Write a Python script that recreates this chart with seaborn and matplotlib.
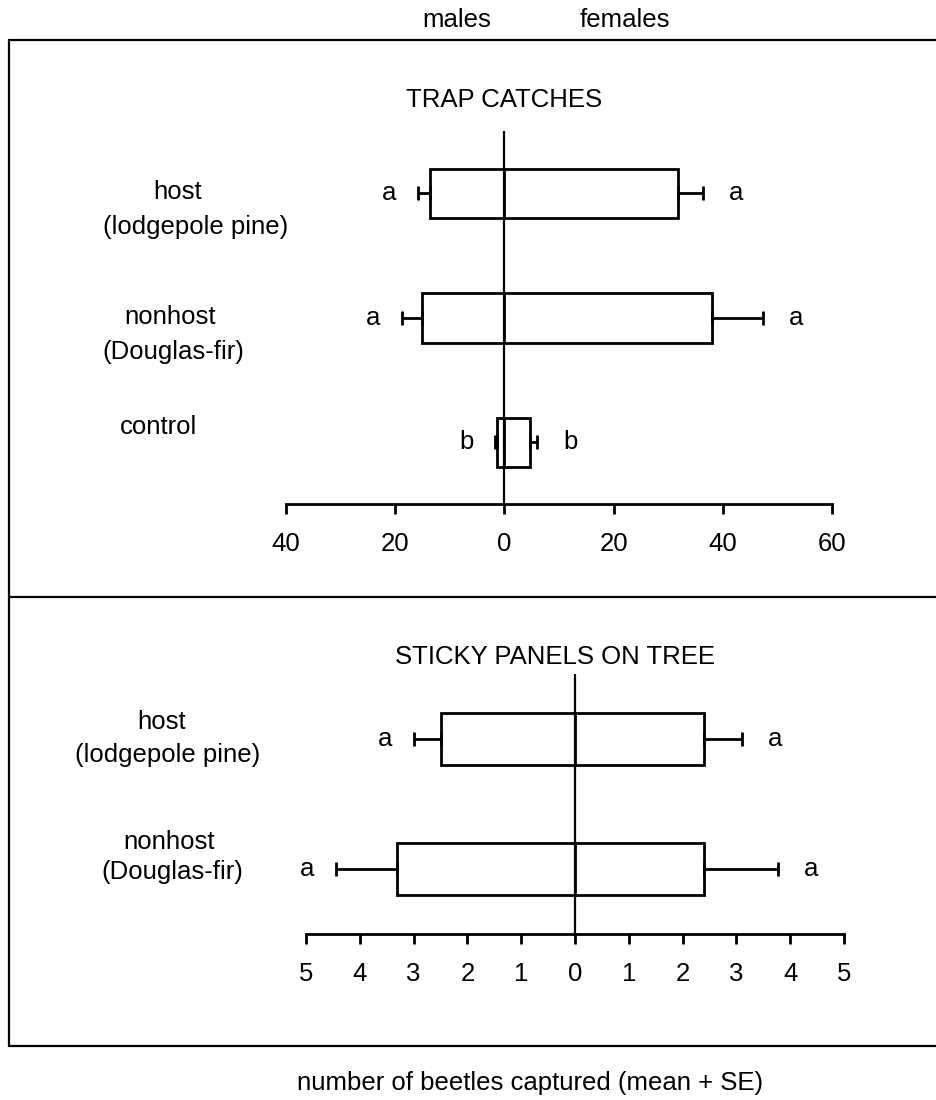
import matplotlib
matplotlib.use("Agg")
import matplotlib.pyplot as plt
import seaborn as sns
import pandas as pd
from matplotlib.lines import Line2D
from matplotlib.ticker import FuncFormatter, FixedLocator

# ---------------- data ----------------
top_title = "TRAP CATCHES"
top_groups = ["host", "nonhost", "control"]
top_sub = ["(lodgepole pine)", "(Douglas-fir)", ""]
top_male_mean = [13.6, 15.1, 1.4]
top_male_se = [2.3, 3.7, 0.3]
top_female_mean = [31.8, 38.0, 4.7]
top_female_se = [4.6, 9.4, 1.3]
top_male_letters = ["a", "a", "b"]
top_female_letters = ["a", "a", "b"]
top_ticks = [-40, -20, 0, 20, 40, 60]

bot_title = "STICKY PANELS ON TREE"
bot_groups = ["host", "nonhost"]
bot_sub = ["(lodgepole pine)", "(Douglas-fir)"]
bot_male_mean = [2.5, 3.3]
bot_male_se = [0.5, 1.15]
bot_female_mean = [2.4, 2.4]
bot_female_se = [0.7, 1.37]
bot_male_letters = ["a", "a"]
bot_female_letters = ["a", "a"]
bot_ticks = [-5, -4, -3, -2, -1, 0, 1, 2, 3, 4, 5]

sex_labels = ["males", "females"]
x_label = "number of beetles captured (mean + SE)"

# ---------------- style ----------------
sns.set_style("ticks")
plt.rcParams["font.family"] = ["Liberation Sans", "DejaVu Sans"]
plt.rcParams["text.color"] = "black"
plt.rcParams["xtick.color"] = "black"
plt.rcParams["axes.edgecolor"] = "black"
FS = 18.5
W, H = 937, 1100
fig = plt.figure(figsize=(W / 100, H / 100), dpi=100)


def fx(px):
    return px / W


def fy(py):
    return 1 - py / H


def panel(rect_px, groups, male_mean, male_se, female_mean, female_se,
          mletters, fletters, ticks, ylim):
    x0, y0, x1, y1 = rect_px
    ax = fig.add_axes([fx(x0), fy(y1), fx(x1) - fx(x0), (y1 - y0) / H])
    df = pd.DataFrame({
        "group": groups * 2,
        "sex": ["m"] * len(groups) + ["f"] * len(groups),
        "value": [-v for v in male_mean] + list(female_mean),
    })
    sns.barplot(data=df, x="value", y="group", hue="sex", order=groups,
                palette={"m": "white", "f": "white"}, dodge=False,
                width=0.4, edgecolor="black", linewidth=2.0,
                errorbar=None, legend=False, ax=ax, orient="h")
    ypos = list(range(len(groups)))
    ax.errorbar([-v for v in male_mean], ypos,
                xerr=[male_se, [0] * len(groups)], fmt="none",
                ecolor="black", elinewidth=2.0, capsize=4.7, capthick=2.0,
                zorder=3)
    ax.errorbar(female_mean, ypos,
                xerr=[[0] * len(groups), female_se], fmt="none",
                ecolor="black", elinewidth=2.0, capsize=4.7, capthick=2.0,
                zorder=3)
    for i in ypos:
        ax.annotate(mletters[i], xy=(-(male_mean[i] + male_se[i]), i),
                    xytext=(-29, 0), textcoords="offset pixels",
                    ha="center", va="center", fontsize=FS, color="black")
        ax.annotate(fletters[i], xy=(female_mean[i] + female_se[i], i),
                    xytext=(33, 0), textcoords="offset pixels",
                    ha="center", va="center", fontsize=FS, color="black")
    ax.axvline(0, color="black", lw=1.6, zorder=4)
    ax.set_xlim(ticks[0], ticks[-1])
    ax.set_ylim(*ylim)
    ax.xaxis.set_major_locator(FixedLocator(ticks))
    ax.xaxis.set_major_formatter(FuncFormatter(lambda v, p: f"{abs(v):g}"))
    ax.set_yticks([])
    ax.set_xlabel("")
    ax.set_ylabel("")
    for s in ["left", "right", "top"]:
        ax.spines[s].set_visible(False)
    ax.spines["bottom"].set_linewidth(2.0)
    ax.spines["bottom"].set_color("black")
    ax.tick_params(axis="x", length=7, width=2.0, direction="out",
                   pad=13, labelsize=FS, colors="black", labelcolor="black")
    ax.set_facecolor("none")
    return ax


ax1 = panel((286, 131, 832, 504), top_groups, top_male_mean, top_male_se,
            top_female_mean, top_female_se, top_male_letters,
            top_female_letters, top_ticks, (2.494, -0.502))
ax2 = panel((306, 674, 844, 934), bot_groups, bot_male_mean, bot_male_se,
            bot_female_mean, bot_female_se, bot_male_letters,
            bot_female_letters, bot_ticks, (1.498, -0.502))

# ---------------- frame lines ----------------
for (xa, ya, xb, yb) in [(9, 40, 937, 40), (9, 597, 937, 597),
                         (9, 1046, 937, 1046), (9, 40, 9, 1046)]:
    fig.add_artist(Line2D([fx(xa), fx(xb)], [fy(ya), fy(yb)],
                          transform=fig.transFigure, color="black", lw=1.6))

# ---------------- texts ----------------
fig.text(fx(457), fy(20), sex_labels[0], ha="center", va="center", fontsize=FS)
fig.text(fx(625), fy(20), sex_labels[1], ha="center", va="center", fontsize=FS)
fig.text(fx(504), fy(100), top_title, ha="center", va="center", fontsize=FS)
fig.text(fx(555), fy(657), bot_title, ha="center", va="center", fontsize=FS)

# row labels (top panel)
top_label_px = [((178, 192), (196, 227)), ((170, 317), (173, 352)),
                ((159, 427), None)]
for i, (l1, l2) in enumerate(top_label_px):
    fig.text(fx(l1[0]), fy(l1[1]), top_groups[i], ha="center", va="center",
             fontsize=FS)
    if l2 is not None and top_sub[i]:
        fig.text(fx(l2[0]), fy(l2[1]), top_sub[i], ha="center", va="center",
                 fontsize=FS)

bot_label_px = [((162, 722), (168, 755)), ((169, 842), (172, 872))]
for i, (l1, l2) in enumerate(bot_label_px):
    fig.text(fx(l1[0]), fy(l1[1]), bot_groups[i], ha="center", va="center",
             fontsize=FS)
    fig.text(fx(l2[0]), fy(l2[1]), bot_sub[i], ha="center", va="center",
             fontsize=FS)

fig.text(fx(530), fy(1083), x_label, ha="center", va="center", fontsize=FS)

fig.savefig("out.png", dpi=100, facecolor="white")
